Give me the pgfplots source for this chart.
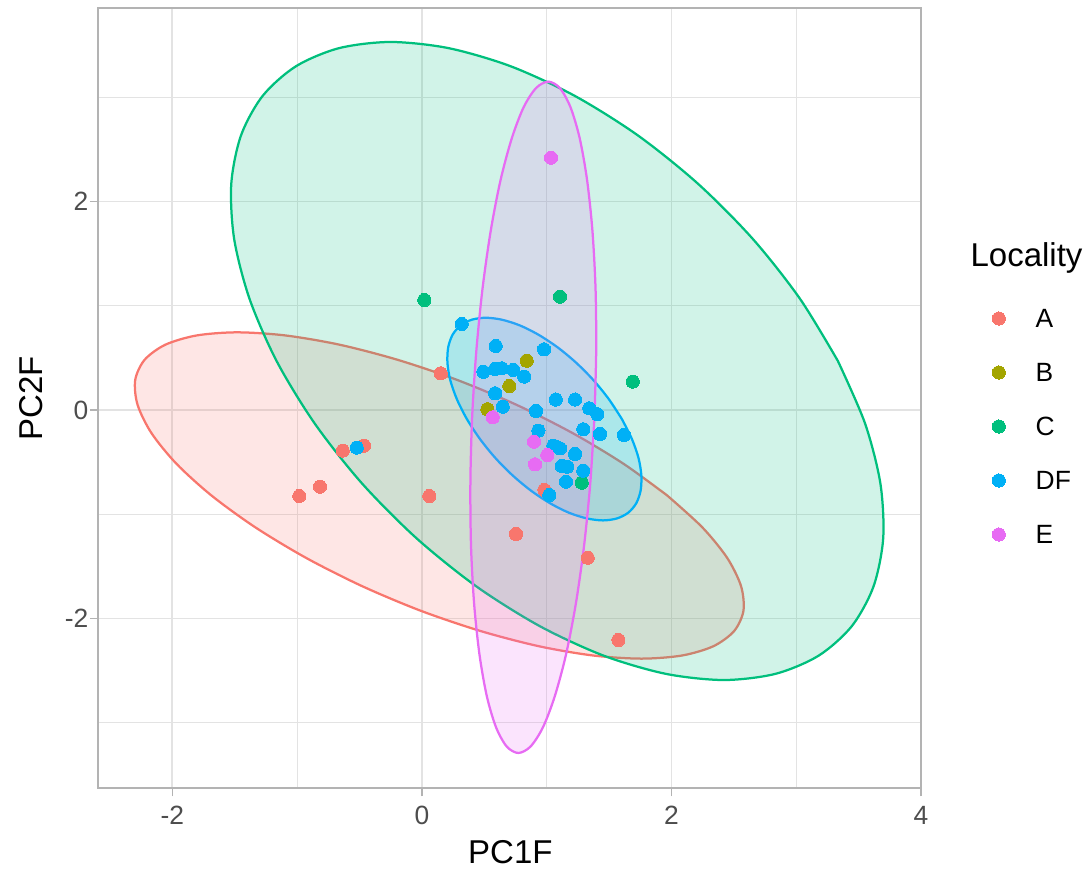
\documentclass[border=0pt]{standalone}
\usepackage{pgfplots}
\pgfplotsset{compat=1.18}
\usepackage{fontspec}
\setmainfont{Liberation Sans}
\definecolor{cA}{HTML}{F8766D}
\definecolor{cB}{HTML}{A3A500}
\definecolor{cC}{HTML}{00BF7D}
\definecolor{cD}{HTML}{00B0F6}
\definecolor{cE}{HTML}{E76BF3}
\definecolor{gridc}{HTML}{E3E3E3}
\definecolor{grey70}{HTML}{B3B3B3}
\definecolor{grey30}{HTML}{4D4D4D}
\pgfplotsset{
  pts/.style={only marks, mark=*, mark size=2.2pt, mark options={draw=#1, fill=#1, line width=0pt},
    legend image code/.code={\draw[##1] plot coordinates {(0pt,3.15pt)};}},
  ell/.style={draw=#1, line width=0.75pt, fill=#1, fill opacity=0.18, draw opacity=1, smooth, line join=round, line cap=round, forget plot},
}
\begin{document}
\begin{tikzpicture}
\begin{axis}[
  scale only axis, width=274.33pt, height=260pt,
  xmin=-2.595, xmax=4.0, ymin=-3.626, ymax=3.856,
  xtick={-2,0,2,4}, ytick={-2,0,2},
  minor xtick={-1,1,3}, minor ytick={-3,-1,1,3},
  grid=both,
  major grid style={draw=gridc, line width=0.55pt},
  minor grid style={draw=gridc, line width=0.3pt},
  axis line style={draw=grey70, line width=0.7pt},
  major tick style={draw=grey70, line width=0.5pt},
  tick align=outside, major tick length=2.75pt, minor tick length=0pt,
  xtick pos=bottom, ytick pos=left,
  ticklabel style={font=\fontsize{8.8}{10}\selectfont, text=grey30, inner sep=0pt},
  xticklabel shift=3.1pt, yticklabel shift=0.3pt,
  /pgf/number format/assume math mode=true,
  xlabel={PC1F}, ylabel={PC2F},
  xlabel style={at={(axis description cs:0.501,-0.0819)}, anchor=center, inner sep=0pt, font=\fontsize{11}{13}\selectfont},
  ylabel style={at={(axis description cs:-0.0813,0.5)}, anchor=center, rotate=0, inner sep=0pt, font=\fontsize{11}{13}\selectfont},
  legend style={at={(axis description cs:1.0858,0.6156)}, anchor=north west, draw=none, fill=none,
    inner sep=0pt, row sep=9.5pt, column sep=10.1pt, font=\fontsize{8.8}{10}\selectfont,
    nodes={inner sep=0pt, text height=6.5pt, text depth=2pt, anchor=base west}},
  legend cell align=left,
]
% points
\addplot[pts=cA] coordinates {(-0.982,-0.825) (-0.816,-0.735) (-0.634,-0.390) (-0.463,-0.342) (0.151,0.352) (0.060,-0.825) (0.755,-1.190) (0.982,-0.767) (1.329,-1.417) (1.575,-2.206)};
\addlegendentry{A}
\addplot[pts=cB] coordinates {(0.840,0.473) (0.701,0.230) (0.525,0.007)};
\addlegendentry{B}
\addplot[pts=cC] coordinates {(0.020,1.055) (1.107,1.087) (1.690,0.272) (1.281,-0.697)};
\addlegendentry{C}
\addplot[pts=cD] coordinates {(0.320,0.825) (0.592,0.614) (0.979,0.582) (0.493,0.367) (0.587,0.393) (0.640,0.400) (0.733,0.384) (0.821,0.320) (0.587,0.160) (0.648,0.032) (0.915,-0.010) (1.073,0.100) (1.228,0.100) (1.342,0.016) (1.406,-0.040) (1.294,-0.185) (1.428,-0.230) (1.620,-0.240) (0.934,-0.198) (1.054,-0.342) (1.107,-0.368) (1.228,-0.422) (1.121,-0.537) (1.166,-0.544) (1.294,-0.582) (1.155,-0.688) (1.022,-0.815) (-0.522,-0.361)};
\addlegendentry{DF}
\addplot[pts=cE] coordinates {(1.035,2.420) (0.568,-0.070) (0.899,-0.304) (1.006,-0.432) (0.907,-0.521)};
\addlegendentry{E}
% ellipses (boundary points)
\addplot[ell=cA] coordinates {(1.966,-0.820) (1.615,-0.515) (1.207,-0.221) (0.758,0.050) (0.286,0.287) (-0.193,0.481) (-0.658,0.626) (-1.093,0.715) (-1.480,0.745) (-1.805,0.715) (-2.056,0.626) (-2.222,0.481) (-2.297,0.287) (-2.278,0.050) (-2.167,-0.221) (-1.967,-0.515) (-1.686,-0.820) (-1.335,-1.125) (-0.927,-1.419) (-0.478,-1.690) (-0.006,-1.927) (0.473,-2.121) (0.938,-2.266) (1.373,-2.355) (1.760,-2.385) (2.085,-2.355) (2.336,-2.266) (2.502,-2.121) (2.577,-1.927) (2.558,-1.690) (2.447,-1.419) (2.247,-1.125) (1.966,-0.820)};
\addplot[ell=cC] coordinates {(3.334,0.470) (3.030,1.067) (2.652,1.641) (2.213,2.170) (1.731,2.634) (1.224,3.014) (0.712,3.297) (0.214,3.471) (-0.250,3.530) (-0.663,3.471) (-1.009,3.297) (-1.275,3.014) (-1.449,2.634) (-1.527,2.170) (-1.504,1.641) (-1.381,1.067) (-1.164,0.470) (-0.860,-0.127) (-0.482,-0.701) (-0.043,-1.230) (0.439,-1.694) (0.946,-2.074) (1.458,-2.357) (1.956,-2.531) (2.420,-2.590) (2.833,-2.531) (3.179,-2.357) (3.445,-2.074) (3.619,-1.694) (3.697,-1.230) (3.674,-0.701) (3.551,-0.127) (3.334,0.470)};
\addplot[ell=cD] coordinates {(1.603,-0.087) (1.499,0.103) (1.376,0.285) (1.237,0.453) (1.089,0.600) (0.936,0.721) (0.786,0.811) (0.642,0.866) (0.512,0.885) (0.400,0.866) (0.310,0.811) (0.246,0.721) (0.211,0.600) (0.205,0.453) (0.228,0.285) (0.281,0.103) (0.361,-0.087) (0.465,-0.277) (0.588,-0.459) (0.727,-0.627) (0.875,-0.774) (1.028,-0.895) (1.178,-0.985) (1.322,-1.040) (1.452,-1.059) (1.564,-1.040) (1.654,-0.985) (1.718,-0.895) (1.753,-0.774) (1.759,-0.627) (1.736,-0.459) (1.683,-0.277) (1.603,-0.087)};
\addplot[ell=cE] coordinates {(1.383,-0.070) (1.397,0.558) (1.392,1.162) (1.367,1.719) (1.324,2.207) (1.265,2.607) (1.191,2.905) (1.106,3.088) (1.013,3.150) (0.915,3.088) (0.816,2.905) (0.721,2.607) (0.631,2.207) (0.552,1.719) (0.486,1.162) (0.436,0.558) (0.403,-0.070) (0.389,-0.698) (0.394,-1.302) (0.419,-1.859) (0.462,-2.347) (0.521,-2.747) (0.595,-3.045) (0.680,-3.228) (0.773,-3.290) (0.871,-3.228) (0.970,-3.045) (1.065,-2.747) (1.155,-2.347) (1.234,-1.859) (1.300,-1.302) (1.350,-0.698) (1.383,-0.070)};
\end{axis}
\node[anchor=west, inner sep=0pt, font=\fontsize{11}{13}\selectfont] at ([xshift=16.33pt,yshift=-83.3pt]current axis.north east) {Locality};
\pgfresetboundingbox
\useasboundingbox ([xshift=-32.67pt,yshift=-27pt]current axis.south west) rectangle ([xshift=57pt,yshift=2.67pt]current axis.north east);
\end{tikzpicture}
\end{document}
